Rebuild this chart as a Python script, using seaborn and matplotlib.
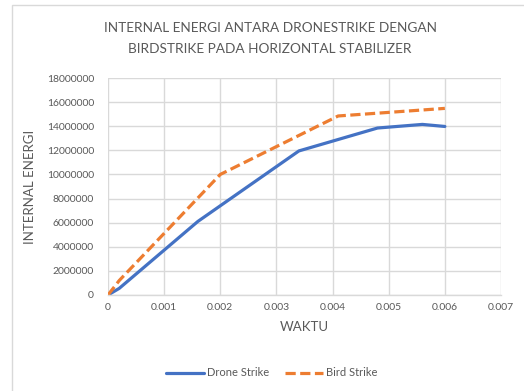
import numpy as np
import pandas as pd
import matplotlib
matplotlib.use("Agg")
import matplotlib.pyplot as plt
from matplotlib.patches import Rectangle
import seaborn as sns

# Series values (time in s, internal energy)
drone_waktu = [0.0, 0.0002, 0.0016, 0.0034, 0.0048, 0.0056, 0.006]
drone_energi = [0, 550000, 6100000, 11950000, 13850000, 14150000, 13980000]
bird_waktu = [0.0, 0.0002, 0.002, 0.0041, 0.006]
bird_energi = [0, 1200000, 10000000, 14850000, 15480000]

x_ticks = [0, 0.001, 0.002, 0.003, 0.004, 0.005, 0.006, 0.007]
x_tick_labels = ["0", "0.001", "0.002", "0.003", "0.004", "0.005", "0.006", "0.007"]
y_ticks = [0, 2000000, 4000000, 6000000, 8000000, 10000000, 12000000, 14000000, 16000000, 18000000]
y_tick_labels = [str(v) for v in y_ticks]

title_lines = ["INTERNAL ENERGI ANTARA DRONESTRIKE DENGAN",
               "BIRDSTRIKE PADA HORIZONTAL STABILIZER"]

sns.set_theme(style="white")
plt.rcParams["font.family"] = ["Lato", "DejaVu Sans"]

TEXT = "#595959"
GRID = "#d9d9d9"
BLUE = "#4472C4"
ORANGE = "#ED7D31"

df = pd.concat([
    pd.DataFrame({"WAKTU": drone_waktu, "ENERGI": drone_energi, "Seri": "Drone Strike"}),
    pd.DataFrame({"WAKTU": bird_waktu, "ENERGI": bird_energi, "Seri": "Bird Strike"}),
])

W, H = 524, 391
fig = plt.figure(figsize=(W / 100, H / 100), dpi=100)
fig.patch.set_facecolor("white")

# chart-area outline
fig.patches.append(Rectangle((12 / W, -0.05), 1.2, 1 - 5 / H + 0.05,
                             transform=fig.transFigure, fill=False,
                             edgecolor="#d9d9d9", linewidth=1.0))

ax = fig.add_axes([108 / W, 1 - 295 / H, (501 - 108) / W, (295 - 78) / H])

sns.lineplot(data=df[df["Seri"] == "Drone Strike"], x="WAKTU", y="ENERGI",
             sort=False, color=BLUE, linewidth=2.3, ax=ax, legend=False,
             estimator=None)
sns.lineplot(data=df[df["Seri"] == "Bird Strike"], x="WAKTU", y="ENERGI",
             sort=False, color=ORANGE, linewidth=2.3, ax=ax, legend=False,
             estimator=None)
lines = ax.get_lines()
lines[1].set_dashes((3.2, 1.4))
lines[0].set_solid_capstyle("round")
lines[1].set_dash_capstyle("butt")

ax.set_xlim(0, 0.007)
ax.set_ylim(0, 18000000)
ax.set_xticks(x_ticks)
ax.set_xticklabels(x_tick_labels)
ax.set_yticks(y_ticks)
ax.set_yticklabels(y_tick_labels)
ax.grid(True, color=GRID, linewidth=1.0)
ax.set_axisbelow(True)
for s in ["top", "right", "left"]:
    ax.spines[s].set_visible(False)
ax.spines["bottom"].set_color(GRID)
ax.spines["bottom"].set_linewidth(1.0)
ax.tick_params(axis="both", length=0, labelsize=7.5, colors=TEXT, pad=6)
ax.tick_params(axis="y", pad=10)

ax.set_xlabel("WAKTU", fontsize=9.5, color=TEXT, labelpad=6)
ax.set_ylabel("INTERNAL ENERGI", fontsize=9.5, color=TEXT, labelpad=8)

fig.text(270 / W, 1 - 28 / H, title_lines[0], ha="center", va="center",
         fontsize=9.8, color=TEXT)
fig.text(270 / W, 1 - 49 / H, title_lines[1], ha="center", va="center",
         fontsize=9.8, color=TEXT)

handles = [plt.Line2D([], [], color=BLUE, linewidth=2.3),
           plt.Line2D([], [], color=ORANGE, linewidth=2.3, dashes=(3.2, 1.4))]
fig.legend(handles, ["Drone Strike", "Bird Strike"], loc="center",
           bbox_to_anchor=(272 / W, 1 - 373 / H), ncol=2, frameon=False,
           fontsize=8, labelcolor=TEXT, handlelength=3.4, handletextpad=0.3,
           columnspacing=1.4)

fig.savefig("out.png", dpi=100, facecolor="white")
